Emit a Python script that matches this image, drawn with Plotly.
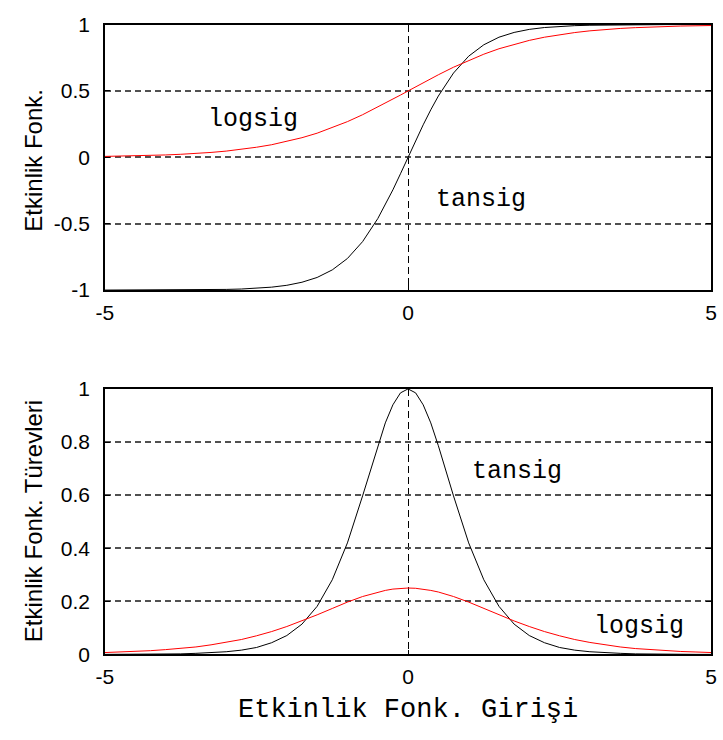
import plotly.graph_objects as go

# Activation inputs (n) and the two transfer functions with their derivatives
n_in = [-5.0, -4.75, -4.5, -4.25, -4.0, -3.75, -3.5, -3.25, -3.0, -2.75, -2.5,
        -2.25, -2.0, -1.75, -1.5, -1.25, -1.0, -0.75, -0.5, -0.375, -0.25, -0.125, 0.0,
        0.125, 0.25, 0.375, 0.5, 0.75, 1.0, 1.25, 1.5, 1.75, 2.0, 2.25, 2.5,
        2.75, 3.0, 3.25, 3.5, 3.75, 4.0, 4.25, 4.5, 4.75, 5.0]

tansig = [-1.000, -1.000, -1.000, -1.000, -0.999, -0.999, -0.998, -0.997, -0.995, -0.992, -0.987,
          -0.978, -0.964, -0.941, -0.905, -0.848, -0.762, -0.635, -0.462, -0.358, -0.245, -0.124, 0.000,
          0.124, 0.245, 0.358, 0.462, 0.635, 0.762, 0.848, 0.905, 0.941, 0.964, 0.978, 0.987,
          0.992, 0.995, 0.997, 0.998, 0.999, 0.999, 1.000, 1.000, 1.000, 1.000]

logsig = [0.007, 0.009, 0.011, 0.014, 0.018, 0.023, 0.029, 0.037, 0.047, 0.060, 0.076,
          0.095, 0.119, 0.148, 0.182, 0.223, 0.269, 0.321, 0.378, 0.407, 0.438, 0.469, 0.500,
          0.531, 0.562, 0.593, 0.622, 0.679, 0.731, 0.777, 0.818, 0.852, 0.881, 0.905, 0.924,
          0.940, 0.953, 0.963, 0.971, 0.977, 0.982, 0.986, 0.989, 0.991, 0.993]

tansig_der = [0.000, 0.000, 0.000, 0.001, 0.001, 0.002, 0.004, 0.006, 0.010, 0.016, 0.026,
              0.044, 0.071, 0.114, 0.181, 0.281, 0.420, 0.597, 0.786, 0.872, 0.940, 0.985, 1.000,
              0.985, 0.940, 0.872, 0.786, 0.597, 0.420, 0.281, 0.181, 0.114, 0.071, 0.044, 0.026,
              0.016, 0.010, 0.006, 0.004, 0.002, 0.001, 0.001, 0.000, 0.000, 0.000]

logsig_der = [0.007, 0.009, 0.011, 0.014, 0.018, 0.022, 0.028, 0.036, 0.045, 0.056, 0.070,
              0.086, 0.105, 0.126, 0.149, 0.173, 0.197, 0.218, 0.235, 0.241, 0.246, 0.249, 0.250,
              0.249, 0.246, 0.241, 0.235, 0.218, 0.197, 0.173, 0.149, 0.126, 0.105, 0.086, 0.070,
              0.056, 0.045, 0.036, 0.028, 0.022, 0.018, 0.014, 0.011, 0.009, 0.007]

x_ticks = [-5, 0, 5]
y_ticks_top = [-1, -0.5, 0, 0.5, 1]
y_ticks_top_text = ["-1", "-0.5", "0", "0.5", "1"]
y_ticks_bot = [0, 0.2, 0.4, 0.6, 0.8, 1]
y_ticks_bot_text = ["0", "0.2", "0.4", "0.6", "0.8", "1"]

W, H = 723, 740
SANS = "Liberation Sans, Arial, sans-serif"
MONO = "Liberation Mono, Courier New, monospace"


def curve(y, color, xa, ya):
    return go.Scatter(x=n_in, y=y, mode="lines", line=dict(color=color, width=1),
                      xaxis=xa, yaxis=ya, showlegend=False, hoverinfo="x+y")


fig = go.Figure()
fig.add_trace(curve(tansig, "black", "x", "y"))
fig.add_trace(curve(logsig, "#ff0000", "x", "y"))
fig.add_trace(curve(tansig_der, "black", "x2", "y2"))
fig.add_trace(curve(logsig_der, "#ff0000", "x2", "y2"))

xdom = [98 / W, 717 / W]
common = dict(showline=True, linecolor="black", linewidth=1.6, mirror="ticks",
              ticks="inside", ticklen=5, tickcolor="black", tickwidth=1,
              tickfont=dict(family=SANS, size=21, color="black"), zeroline=False)
xcommon = dict(common, range=[-5, 5], tickvals=x_ticks, ticktext=[str(v) for v in x_ticks],
               showgrid=True, gridcolor="black", gridwidth=1, griddash="7px,4px",
               ticklabelstandoff=3)
ycommon = dict(common, showgrid=True, gridcolor="#505050", gridwidth=1.5, griddash="6px,4px",
               ticklabelstandoff=9)

fig.update_layout(
    width=W, height=H,
    margin=dict(l=0, r=0, t=0, b=0),
    paper_bgcolor="white", plot_bgcolor="white",
    xaxis=dict(xcommon, domain=xdom, anchor="y"),
    yaxis=dict(ycommon, domain=[1 - 287 / H, 1 - 13 / H], range=[-1, 1], anchor="x",
               tickvals=y_ticks_top, ticktext=y_ticks_top_text),
    xaxis2=dict(xcommon, domain=xdom, anchor="y2"),
    yaxis2=dict(ycommon, domain=[1 - 663 / H, 1 - 389 / H], range=[0, 1], anchor="x2",
                tickvals=y_ticks_bot, ticktext=y_ticks_bot_text),
)

labels = [
    dict(text="logsig", x=-2.55, y=0.285, xref="x", yref="y"),
    dict(text="tansig", x=1.2, y=-0.32, xref="x", yref="y"),
    dict(text="tansig", x=1.80, y=0.69, xref="x2", yref="y2"),
    dict(text="logsig", x=3.81, y=0.105, xref="x2", yref="y2"),
]
for a in labels:
    fig.add_annotation(**a, showarrow=False, font=dict(family=MONO, size=25, color="black"),
                       xanchor="center", yanchor="middle")

fig.add_annotation(text="Etkinlik Fonk.", x=25 / W, y=1 - 153 / H, xref="paper", yref="paper",
                   textangle=-90, showarrow=False, xanchor="center", yanchor="middle",
                   font=dict(family=SANS, size=24, color="black"))
fig.add_annotation(text="Etkinlik Fonk. Türevleri", x=25 / W, y=1 - 525 / H, xref="paper", yref="paper",
                   textangle=-90, showarrow=False, xanchor="center", yanchor="middle",
                   font=dict(family=SANS, size=24, color="black"))
fig.add_annotation(text="Etkinlik Fonk. Girişi", x=407.5 / W, y=1 - 720 / H, xref="paper", yref="paper",
                   showarrow=False, xanchor="center", yanchor="middle",
                   font=dict(family=MONO, size=27, color="black"))

fig.write_html("out.html")
